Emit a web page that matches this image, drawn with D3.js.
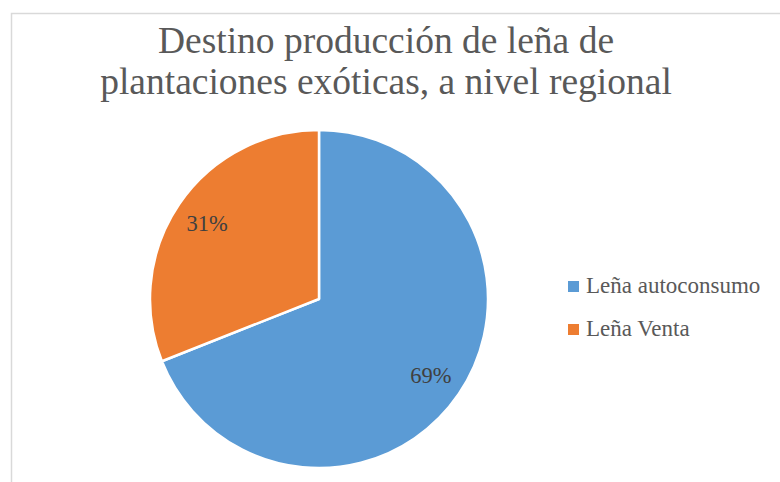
<!DOCTYPE html>
<html>
<head>
<meta charset="utf-8">
<script src="https://cdn.jsdelivr.net/npm/d3@7"></script>
<style>
  body { margin: 0; background: #fff; }
  svg { display: block; }
  text { font-family: 'Liberation Serif', 'Times New Roman', Times, serif; }
</style>
</head>
<body>
<svg id="chart"></svg>
<script>
let width = 780
let height = 482

let categories = ['Leña autoconsumo', 'Leña Venta']
let values = [69, 31]
let colors = ['#5b9bd5', '#ed7d31']
let titleLines = ['Destino producción de leña de', 'plantaciones exóticas, a nivel regional']

let cx = 319
let cy = 299
let radius = 169

let svg = d3.select('#chart')
    .attr('width', width)
    .attr('height', height)

// chart area border (right/bottom fall off the picture)
svg.append('rect')
    .attr('x', 11.5)
    .attr('y', 13.5)
    .attr('width', 800)
    .attr('height', 500)
    .attr('fill', 'none')
    .attr('stroke', '#d9d9d9')
    .attr('stroke-width', 1.5)

svg.append('g')
  .selectAll('text')
  .data(titleLines)
  .enter()
  .append('text')
    .attr('x', 386)
    .attr('y', (d, i) => 53 + i * 41)
    .attr('text-anchor', 'middle')
    .attr('font-size', 37.5)
    .attr('fill', '#595959')
    .text(d => d)

let pie = d3.pie().sort(null).value(d => d)
let arc = d3.arc().innerRadius(0).outerRadius(radius)
let labelArc = d3.arc().innerRadius(radius * 0.8).outerRadius(radius * 0.8)

let slices = svg.append('g')
    .attr('transform', `translate(${cx},${cy})`)

let arcs = pie(values)

slices.selectAll('path')
  .data(arcs)
  .enter()
  .append('path')
    .attr('d', arc)
    .attr('fill', (d, i) => colors[i])
    .attr('stroke', '#fff')
    .attr('stroke-width', 2.5)
    .attr('stroke-linejoin', 'round')

// percentage labels sit at 80% of the radius, like the Excel default
slices.selectAll('text')
  .data(arcs)
  .enter()
  .append('text')
    .attr('transform', d => `translate(${labelArc.centroid(d)})`)
    .attr('dy', '0.35em')
    .attr('text-anchor', 'middle')
    .attr('font-size', 22.5)
    .attr('fill', '#404040')
    .text(d => d.data + '%')

let legend = svg.append('g')
  .selectAll('g')
  .data(categories)
  .enter()
  .append('g')
    .attr('transform', (d, i) => `translate(568,${281 + i * 43})`)

legend.append('rect')
    .attr('width', 11)
    .attr('height', 11)
    .attr('fill', (d, i) => colors[i])

legend.append('text')
    .attr('x', 18)
    .attr('y', 11.5)
    .attr('font-size', 23)
    .attr('fill', '#595959')
    .text(d => d)
</script>
</body>
</html>
